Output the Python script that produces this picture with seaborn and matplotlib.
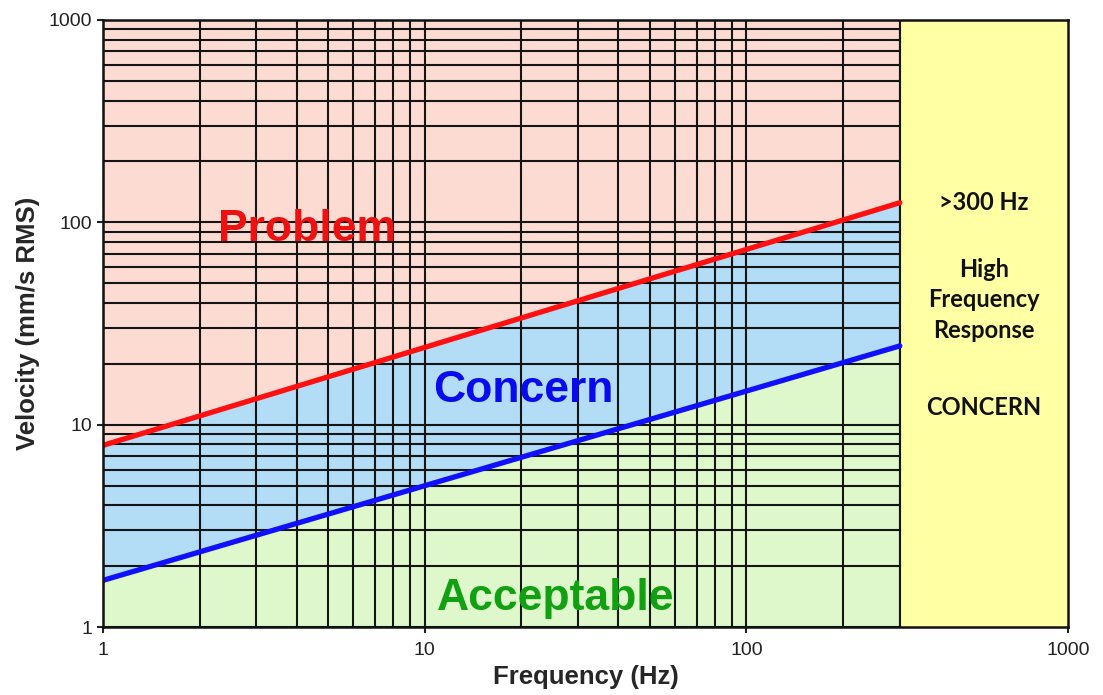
import matplotlib
matplotlib.use("Agg")
import matplotlib.pyplot as plt
import numpy as np
import pandas as pd
import seaborn as sns

# Severity boundaries (velocity in mm/s RMS), straight lines on log-log axes
freq_hz = [1, 300]
problem_limit = [7.9, 125]
concern_limit = [1.7, 24.5]

x_limits = [1, 1000]
y_limits = [1, 1000]
major_ticks = [1, 10, 100, 1000]
tick_labels = ["1", "10", "100", "1000"]
hf_cutoff = 300

zone_labels = ["Problem", "Concern", "Acceptable"]
zone_label_pos = [(4.3, 92), (20.2, 14.8), (25.6, 1.39)]
zone_label_colors = ["#ee1111", "#0a0aee", "#11a011"]

sns.set_theme(style="white")
plt.rcParams["font.family"] = ["Liberation Sans", "DejaVu Sans"]

fig = plt.figure(figsize=(11.03, 6.95), dpi=100)
ax = fig.add_axes([103 / 1103, 1 - 627 / 695, 965 / 1103, 607 / 695])
ax.set_xscale("log")
ax.set_yscale("log")
ax.set_xlim(x_limits)
ax.set_ylim(y_limits)

# Coloured zones
ax.fill_between(freq_hz, problem_limit, y_limits[1], color="#fcdcd2", lw=0, zorder=0.2)
ax.fill_between(freq_hz, concern_limit, problem_limit, color="#b3dcf6", lw=0, zorder=0.2)
ax.fill_between(freq_hz, y_limits[0], concern_limit, color="#def8cc", lw=0, zorder=0.2)

# Log grid
ax.set_axisbelow(True)
ax.grid(which="both", color="#151515", linewidth=1.5)

# High frequency band
ax.axvspan(hf_cutoff, x_limits[1], color="#ffffa4", lw=0, zorder=1.5)
ax.axvline(hf_cutoff, color="#151515", lw=1.5, zorder=1.6)

df = pd.DataFrame({"freq": freq_hz, "problem": problem_limit, "concern": concern_limit})
sns.lineplot(data=df, x="freq", y="problem", color="#ff1010", lw=3.8, ax=ax, zorder=3)
sns.lineplot(data=df, x="freq", y="concern", color="#1010ff", lw=3.8, ax=ax, zorder=3)

for label, (lx, ly), c in zip(zone_labels, zone_label_pos, zone_label_colors):
    ax.text(lx, ly, label, color=c, fontsize=32, fontweight="bold",
            ha="center", va="center", zorder=4)

# Notes for the band above the cutoff
note_kw = dict(transform=ax.transAxes, ha="center", va="center", fontsize=17,
               fontweight="bold", color="#111111", family=["Lato", "DejaVu Sans"], zorder=4)
ax.text(0.913, 0.700, ">300 Hz", **note_kw)
ax.text(0.913, 0.539, "High\nFrequency\nResponse", linespacing=1.4, **note_kw)
ax.text(0.913, 0.362, "CONCERN", **note_kw)

ax.set_xticks(major_ticks)
ax.set_xticklabels(tick_labels)
ax.set_yticks(major_ticks)
ax.set_yticklabels(tick_labels)
ax.tick_params(which="major", direction="out", length=4, width=1.5, color="#222222",
               labelsize=14, labelcolor="#222222", bottom=True, left=True, pad=4)
ax.tick_params(which="minor", length=0)
ax.tick_params(axis="x", pad=7)

for side, sp in ax.spines.items():
    sp.set_color("#111111")
    sp.set_linewidth(1.8)
    sp.set_zorder(5)

ax.set_xlabel("Frequency (Hz)", fontsize=18.5, fontweight="bold", labelpad=4)
ax.set_ylabel("Velocity (mm/s RMS)", fontsize=18.5, fontweight="bold", labelpad=6)

fig.savefig("out.png", dpi=100)
